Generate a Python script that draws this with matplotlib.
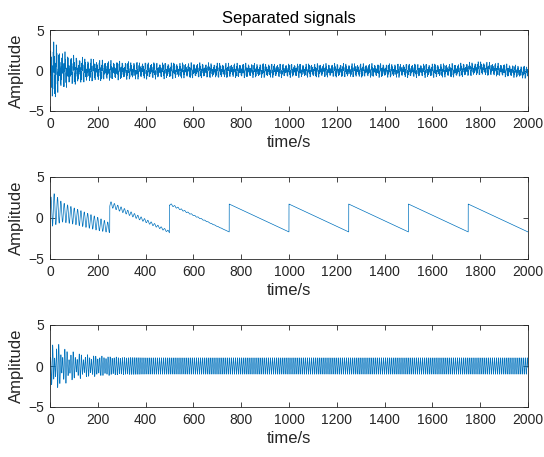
import numpy as np
import matplotlib

matplotlib.use("Agg")
import matplotlib.pyplot as plt  # noqa: E402

plt.rcParams["font.family"] = ["Liberation Sans", "DejaVu Sans"]

# time axis (s)
t = np.arange(0, 2000, 0.25)

# signal 1: decaying oscillation, envelope
s1_env_t = [0, 10, 30, 60, 100, 150, 200, 300, 400, 600, 800, 1000, 1500, 1800, 2000]
s1_env_a = [2.8, 4.6, 3.0, 2.4, 1.9, 1.6, 1.4, 1.2, 1.1, 1.0, 0.95, 0.9, 0.9, 0.9, 0.8]
s1_off_t = [0, 1700, 1760, 1800, 1850, 1950, 2000]
s1_off_v = [0.0, 0.0, 0.15, 0.25, 0.15, -0.1, -0.25]
s1_periods = [12.0, 2.6, 9.1]
s1_weights = [0.45, 0.4, 0.15]

# signal 2: sawtooth (period 250 s) with an early decaying ripple
s2_period = 250.0
s2_high = 1.7
s2_low = -1.7
s2_first = [1.2, -1.2]
s2_rip_t = [0, 10, 50, 100, 200, 249, 250, 300, 400, 500, 600, 750, 2000]
s2_rip_a = [1.0, 2.1, 1.2, 1.0, 0.8, 0.6, 0.35, 0.3, 0.2, 0.12, 0.06, 0.0, 0.0]
s2_rip_period = 14.0

# signal 3: oscillation settling to a constant amplitude of 1
s3_env_t = [0, 10, 30, 60, 100, 150, 200, 300, 400, 2000]
s3_env_a = [0.5, 3.2, 2.8, 2.2, 1.7, 1.4, 1.25, 1.05, 1.0, 1.0]
s3_periods = [8.6, 12.0]
s3_mix_t = [0, 100, 250, 350, 2000]
s3_mix_a = [0.35, 0.3, 0.1, 0.0, 0.0]

env1 = np.interp(t, s1_env_t, s1_env_a)
sig1 = sum(w * np.sin(2 * np.pi * t / p + i) for i, (w, p) in enumerate(zip(s1_weights, s1_periods)))
sig1 = env1 * sig1 + np.interp(t, s1_off_t, s1_off_v)

phase = (t % s2_period) / s2_period
saw = s2_high + (s2_low - s2_high) * phase
first = t < s2_period
saw[first] = s2_first[0] + (s2_first[1] - s2_first[0]) * phase[first]
sig2 = saw + np.interp(t, s2_rip_t, s2_rip_a) * np.sin(2 * np.pi * t / s2_rip_period)

env3 = np.interp(t, s3_env_t, s3_env_a)
mix3 = np.interp(t, s3_mix_t, s3_mix_a)
sig3 = env3 * ((1 - mix3) * np.sin(2 * np.pi * t / s3_periods[0]) + mix3 * np.sin(2 * np.pi * t / s3_periods[1] + 1.0))

signals = [sig1, sig2, sig3]
line_color = "#0072BD"
text_color = "#262626"

fig = plt.figure(figsize=(5.44, 4.57), dpi=100)
boxes = [(50, 30, 478, 81), (50, 177, 478, 82), (50, 325, 478, 82)]
W, H = 544, 457
for k, (sig, (x0, y0, w, h)) in enumerate(zip(signals, boxes)):
    ax = fig.add_axes([x0 / W, 1 - (y0 + h) / H, w / W, h / H])
    ax.plot(t, sig, color=line_color, linewidth=0.5)
    ax.set_xlim(0, 2000)
    ax.set_ylim(-5, 5)
    ax.set_xticks(np.arange(0, 2001, 200))
    ax.set_yticks([-5, 0, 5])
    ax.tick_params(direction="in", top=True, right=True, labelsize=10,
                   length=3.5, width=0.6, colors=text_color, pad=4.5)
    for sp in ax.spines.values():
        sp.set_linewidth(0.6)
        sp.set_color(text_color)
    ax.set_xlabel("time/s", fontsize=12, color=text_color, labelpad=3)
    ax.set_ylabel("Amplitude", fontsize=12, color=text_color, labelpad=3)
    if k == 0:
        ax.set_title("Separated signals", fontsize=12, color="black", pad=5)

fig.savefig("out.png", dpi=100)
plt.close(fig)
